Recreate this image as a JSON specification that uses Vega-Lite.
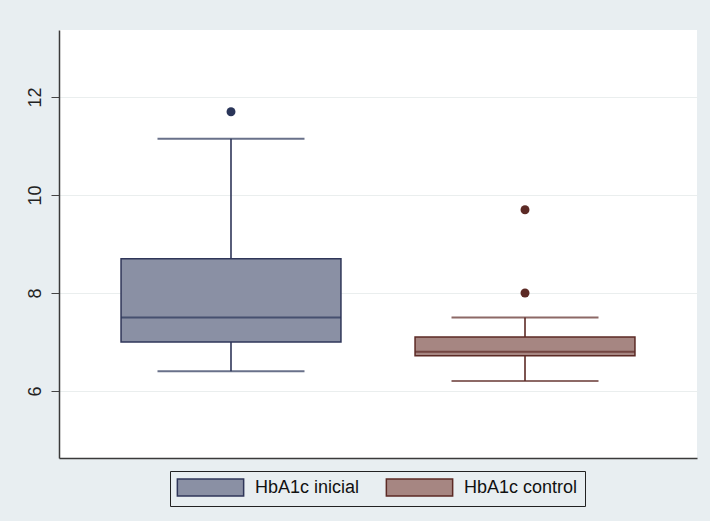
{
  "$schema": "https://vega.github.io/schema/vega-lite/v6.json",
  "width": 638,
  "height": 428,
  "autosize": {"type": "none"},
  "padding": {"left": 59, "top": 30, "right": 13, "bottom": 63},
  "background": "#e8eef1",
  "config": {
    "view": {"stroke": null, "fill": "white"},
    "font": "Liberation Sans",
    "legend": {
      "orient": "none",
      "legendX": 111,
      "legendY": 441,
      "direction": "horizontal",
      "symbolType": "M-3.9,-1H3.9V1H-3.9Z",
      "symbolSize": 289,
      "symbolStrokeWidth": 1.5,
      "symbolOffset": 24,
      "labelOffset": 35,
      "labelFontSize": 18,
      "labelColor": "#111",
      "columnPadding": 23,
      "padding": 7,
      "strokeColor": "#222",
      "fillColor": "#e8eef1",
      "cornerRadius": 0
    }
  },
  "datasets": {
    "boxes": [
      {"grupo": "HbA1c inicial", "lo": 6.4, "q1": 7.0, "med": 7.5, "q3": 8.7, "hi": 11.15},
      {"grupo": "HbA1c control", "lo": 6.2, "q1": 6.72, "med": 6.8, "q3": 7.1, "hi": 7.5}
    ],
    "outliers": [
      {"grupo": "HbA1c inicial", "v": 11.7},
      {"grupo": "HbA1c control", "v": 9.7},
      {"grupo": "HbA1c control", "v": 8.0}
    ]
  },
  "encoding": {
    "x": {
      "field": "grupo",
      "type": "nominal",
      "sort": ["HbA1c inicial", "HbA1c control"],
      "scale": {"paddingInner": 0.252, "paddingOuter": 0.211},
      "axis": {"title": null, "labels": false, "ticks": false, "grid": false, "domainColor": "#3a3a3a", "domainWidth": 1.5}
    }
  },
  "layer": [
    {
      "data": {"name": "boxes"},
      "mark": {"type": "rule", "strokeWidth": 1.6},
      "encoding": {
        "y": {
          "field": "lo",
          "type": "quantitative",
          "scale": {"domain": [4.63, 13.37], "nice": false, "zero": false},
          "axis": {
            "title": null,
            "values": [6, 8, 10, 12],
            "labelAngle": 270,
            "labelAlign": "center",
            "labelBaseline": "bottom",
            "labelFontSize": 18,
            "labelColor": "#222",
            "labelPadding": 7,
            "tickSize": 8,
            "tickColor": "#444",
            "tickWidth": 1,
            "domainColor": "#3a3a3a",
            "domainWidth": 1.5,
            "grid": true,
            "gridColor": "#eaeeee",
            "gridWidth": 1.2
          }
        },
        "y2": {"field": "hi"},
        "stroke": {
          "field": "grupo",
          "type": "nominal",
          "title": null,
          "scale": {"domain": ["HbA1c inicial", "HbA1c control"], "range": ["#2f3659", "#5c2a25"]}
        }
      }
    },
    {
      "data": {"name": "boxes"},
      "mark": {"type": "tick", "size": 147, "thickness": 2},
      "encoding": {
        "y": {"field": "lo", "type": "quantitative"},
        "fill": {"field": "grupo", "type": "nominal", "scale": {"range": ["#5c2a25", "#2a3559"]}, "legend": null}
      }
    },
    {
      "data": {"name": "boxes"},
      "mark": {"type": "tick", "size": 147, "thickness": 2},
      "encoding": {
        "y": {"field": "hi", "type": "quantitative"},
        "fill": {"field": "grupo", "type": "nominal", "legend": null}
      }
    },
    {
      "data": {"name": "boxes"},
      "mark": {"type": "bar", "strokeWidth": 1.5, "opacity": 1},
      "encoding": {
        "y": {"field": "q1", "type": "quantitative"},
        "y2": {"field": "q3"},
        "color": {
          "field": "grupo",
          "type": "nominal",
          "title": null,
          "scale": {"domain": ["HbA1c inicial", "HbA1c control"], "range": ["#8a90a4", "#a68682"]},
          "legend": {"orient": "none", "legendX": 111, "legendY": 441, "direction": "horizontal"}
        },
        "stroke": {
          "field": "grupo",
          "type": "nominal",
          "title": null
        }
      }
    },
    {
      "data": {"name": "boxes"},
      "mark": {"type": "tick", "size": 220, "thickness": 2},
      "encoding": {
        "y": {"field": "med", "type": "quantitative"},
        "fill": {"field": "grupo", "type": "nominal", "legend": null}
      }
    },
    {
      "data": {"name": "outliers"},
      "mark": {"type": "point", "filled": true, "size": 80, "opacity": 1},
      "encoding": {
        "y": {"field": "v", "type": "quantitative"},
        "fill": {"field": "grupo", "type": "nominal", "legend": null}
      }
    }
  ]
}
